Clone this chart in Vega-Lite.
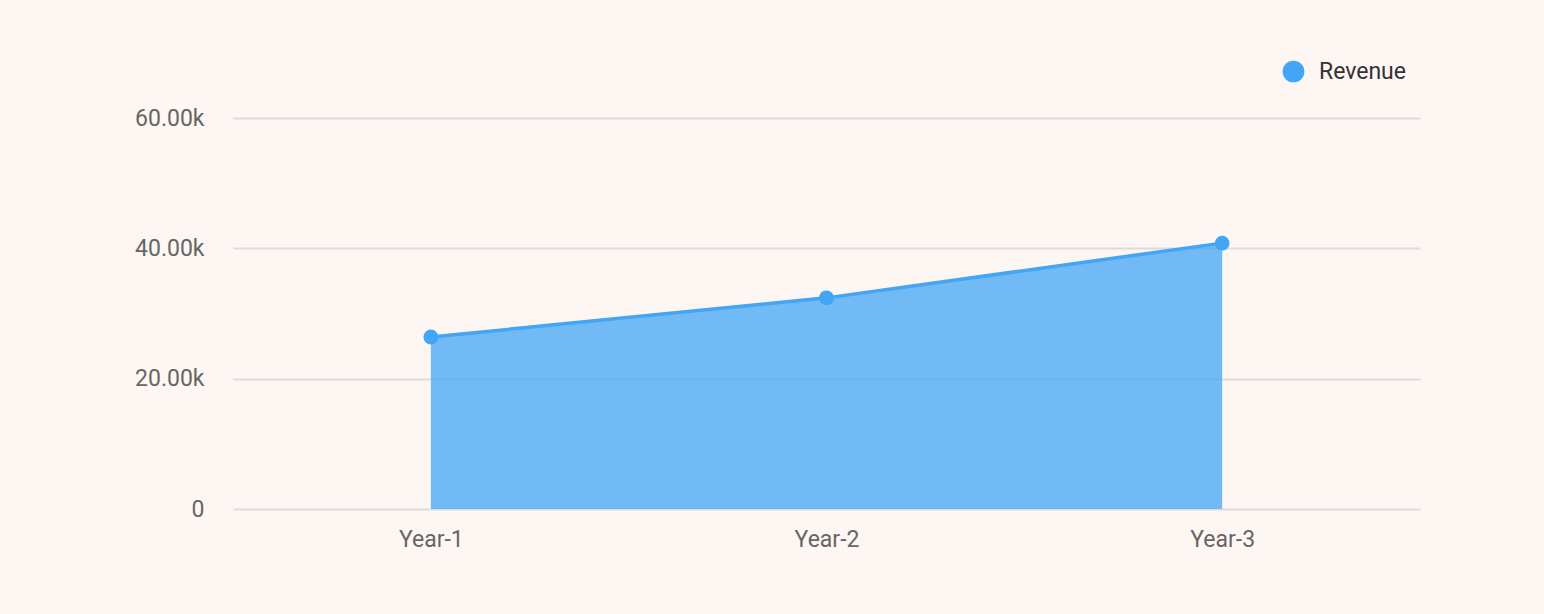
{
  "$schema": "https://vega.github.io/schema/vega-lite/v6.json",
  "width": 1187,
  "height": 391,
  "autosize": {"type": "none"},
  "padding": {"left": 233, "top": 118, "right": 124, "bottom": 105},
  "background": "#fdf6f3",
  "config": {
    "font": "Roboto",
    "view": {"stroke": null},
    "axis": {"labelFont": "Roboto", "labelFontSize": 23, "labelColor": "#666666"}
  },
  "data": {
    "values": [
      {"year": "Year-1", "series": "Revenue", "value": 26400},
      {"year": "Year-2", "series": "Revenue", "value": 32400},
      {"year": "Year-3", "series": "Revenue", "value": 40800}
    ]
  },
  "encoding": {
    "x": {
      "field": "year", "type": "ordinal",
      "scale": {"type": "point", "padding": 0.5},
      "axis": {"title": null, "labelAngle": 0, "ticks": false, "domain": false, "labelPadding": 19, "grid": false}
    },
    "y": {
      "field": "value", "type": "quantitative",
      "scale": {"domain": [0, 60000], "nice": false},
      "axis": {
        "title": null, "values": [0, 20000, 40000, 60000], "ticks": false, "domain": false,
        "labelPadding": 29, "gridColor": "#dcdcdc", "gridWidth": 2,
        "labelExpr": "datum.value == 0 ? '0' : format(datum.value / 1000, '.2f') + 'k'"
      }
    },
    "color": {
      "field": "series", "type": "nominal",
      "scale": {"range": ["#42a5f5"]},
      "legend": {
        "title": null, "orient": "none", "legendX": 1049, "legendY": -58,
        "symbolType": "circle", "symbolSize": 470, "symbolOpacity": 1,
        "symbolFillColor": "#42a5f5", "symbolStrokeWidth": 0,
        "labelFont": "Roboto", "labelFontSize": 23, "labelColor": "#333333", "labelOffset": 14
      }
    }
  },
  "layer": [
    {"mark": {"type": "area", "opacity": 0.75}},
    {"mark": {"type": "line", "strokeWidth": 3.5}},
    {"mark": {"type": "point", "filled": true, "opacity": 1, "size": 220}}
  ]
}
